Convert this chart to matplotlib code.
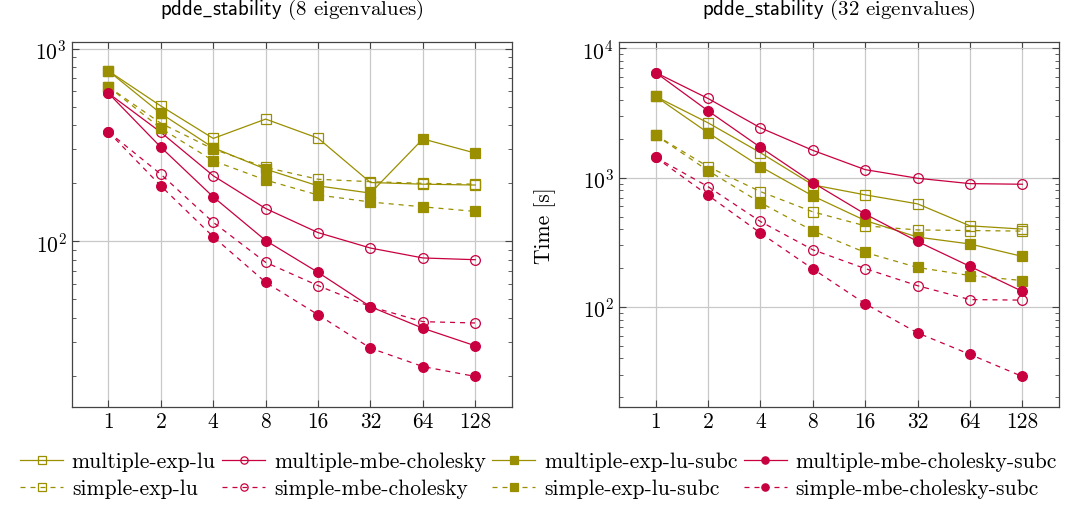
import matplotlib
matplotlib.use("Agg")
import matplotlib.pyplot as plt

plt.rcParams["font.family"] = ["cmr10", "DejaVu Serif"]
plt.rcParams["mathtext.fontset"] = "cm"
plt.rcParams["axes.formatter.use_mathtext"] = True

OLIVE = "#9a8f00"
RED = "#c8003f"
FS = 15.5

threads = [1, 2, 4, 8, 16, 32, 64, 128]
tick_labels = ["1", "2", "4", "8", "16", "32", "64", "128"]

# pdde_stability, 8 eigenvalues
e8_multiple_exp_lu = [766, 504, 342, 431, 343, 202, 198, 196]
e8_simple_exp_lu = [634, 410, 301, 242, 210, 204, 200, 198]
e8_multiple_mbe_chol = [587, 368, 219, 148, 111, 92.3, 82, 80.3]
e8_simple_mbe_chol = [370, 223, 125.5, 77.8, 58.9, 45.8, 38.3, 37.7]
e8_multiple_exp_lu_subc = [766, 461, 306, 237, 194, 178, 340, 287]
e8_simple_exp_lu_subc = [634, 386, 262, 208, 174, 160, 151, 143]
e8_multiple_mbe_chol_subc = [587, 308, 170, 101, 69, 45.8, 35.4, 28.7]
e8_simple_mbe_chol_subc = [370, 194, 105.6, 61.3, 41.6, 27.9, 22.4, 19.9]

# pdde_stability, 32 eigenvalues
e32_multiple_exp_lu = [4243, 2655, 1559, 879, 736, 627, 424, 400]
e32_simple_exp_lu = [2134, 1216, 780, 544, 424, 394, 390, 386]
e32_multiple_mbe_chol = [6495, 4094, 2429, 1626, 1153, 989, 899, 889]
e32_simple_mbe_chol = [1436, 852, 458, 277, 198, 146, 114, 113]
e32_multiple_exp_lu_subc = [4243, 2223, 1216, 722, 466, 347, 307, 246]
e32_simple_exp_lu_subc = [2134, 1132, 641, 388, 264, 202, 175, 160]
e32_multiple_mbe_chol_subc = [6495, 3286, 1715, 915, 523, 321, 206, 132]
e32_simple_mbe_chol_subc = [1436, 731, 373, 197, 106, 63, 43, 29]

names = [
    "multiple-exp-lu", "simple-exp-lu",
    "multiple-mbe-cholesky", "simple-mbe-cholesky",
    "multiple-exp-lu-subc", "simple-exp-lu-subc",
    "multiple-mbe-cholesky-subc", "simple-mbe-cholesky-subc",
]
DASH = (0, (4, 4))
styles = {
    "multiple-exp-lu": dict(color=OLIVE, ls="-", marker="s", mfc="none"),
    "simple-exp-lu": dict(color=OLIVE, ls=DASH, marker="s", mfc="none"),
    "multiple-mbe-cholesky": dict(color=RED, ls="-", marker="o", mfc="none"),
    "simple-mbe-cholesky": dict(color=RED, ls=DASH, marker="o", mfc="none"),
    "multiple-exp-lu-subc": dict(color=OLIVE, ls="-", marker="s"),
    "simple-exp-lu-subc": dict(color=OLIVE, ls=DASH, marker="s"),
    "multiple-mbe-cholesky-subc": dict(color=RED, ls="-", marker="o"),
    "simple-mbe-cholesky-subc": dict(color=RED, ls=DASH, marker="o"),
}

data8 = [e8_multiple_exp_lu, e8_simple_exp_lu, e8_multiple_mbe_chol, e8_simple_mbe_chol,
         e8_multiple_exp_lu_subc, e8_simple_exp_lu_subc,
         e8_multiple_mbe_chol_subc, e8_simple_mbe_chol_subc]
data32 = [e32_multiple_exp_lu, e32_simple_exp_lu, e32_multiple_mbe_chol, e32_simple_mbe_chol,
          e32_multiple_exp_lu_subc, e32_simple_exp_lu_subc,
          e32_multiple_mbe_chol_subc, e32_simple_mbe_chol_subc]

fig = plt.figure(figsize=(10.77, 5.06), dpi=100)
ax1 = fig.add_axes([0.0666, 0.1943, 0.4088, 0.7213])
ax2 = fig.add_axes([0.5747, 0.1943, 0.4086, 0.7213])


def draw(ax, data, ylim, title):
    for name, vals in zip(names, data):
        st = styles[name]
        ax.plot(threads, vals, color=st["color"], ls=st["ls"], lw=0.9,
                marker=st["marker"], ms=7, mfc=st.get("mfc", st["color"]),
                mec=st["color"], mew=0.9, label=name)
    ax.set_xscale("log", base=2)
    ax.set_yscale("log")
    ax.set_xlim(2 ** -0.7, 2 ** 7.7)
    ax.set_ylim(*ylim)
    ax.set_xticks(threads, labels=tick_labels)
    ax.xaxis.set_minor_locator(matplotlib.ticker.NullLocator())
    ax.grid(True, which="major", color="#c8c8c8", lw=0.9)
    ax.set_axisbelow(True)
    ax.tick_params(which="both", direction="in", top=True, right=True,
                   labelsize=FS, color="#444444")
    ax.tick_params(which="major", length=5)
    ax.tick_params(which="minor", length=3)
    for sp in ax.spines.values():
        sp.set_color("#444444")
        sp.set_linewidth(0.9)
    ax.set_title(title, fontsize=15, pad=20)


draw(ax1, data8, (10 ** 1.142, 10 ** 3.036),
     r"$\mathsf{pdde\_stability}$ (8 eigenvalues)")
draw(ax2, data32, (10 ** 1.229, 10 ** 4.051),
     r"$\mathsf{pdde\_stability}$ (32 eigenvalues)")
ax2.set_ylabel("Time [s]", fontsize=FS, labelpad=19)

handles, labels = ax1.get_legend_handles_labels()
fig.legend(handles, labels, loc="lower center", bbox_to_anchor=(0.5, -0.025), ncol=4,
           frameon=False, fontsize=FS, handlelength=2.0, handletextpad=0.4,
           columnspacing=0.3, labelspacing=0.35, markerscale=0.75)

fig.savefig("out.png", dpi=100)
